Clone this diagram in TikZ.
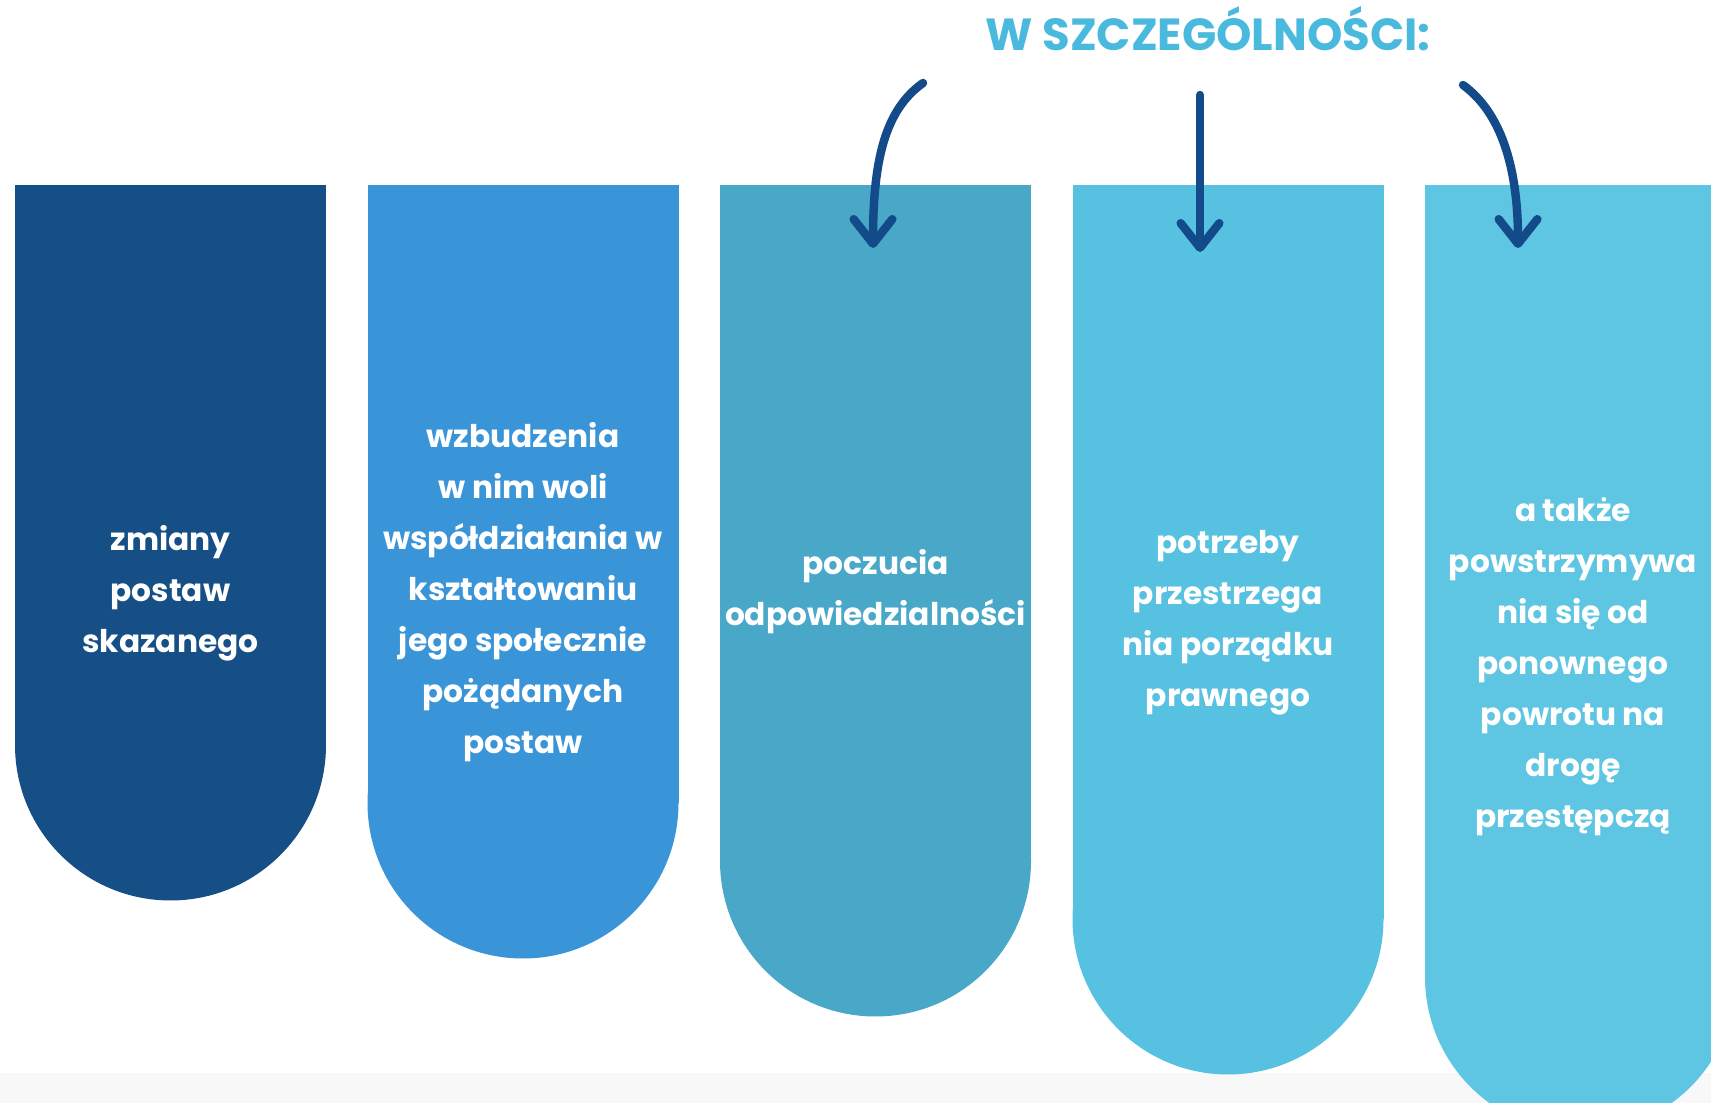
\documentclass[tikz,border=0pt]{standalone}
\usepackage{fontspec}
\setmainfont{Poppins}
\usetikzlibrary{arrows.meta}

\definecolor{navy}{HTML}{164F86}
\definecolor{midblue}{HTML}{3A94D8}
\definecolor{teal}{HTML}{49A7C8}
\definecolor{sky}{HTML}{56C1E0}
\definecolor{skylight}{HTML}{5EC6E2}
\definecolor{arrowblue}{HTML}{134B8A}
\definecolor{titleblue}{HTML}{4AB9DE}
\definecolor{strip}{HTML}{F8F8F8}

\tikzset{
  txt/.style={text=white,align=center,inner sep=0pt,
    font=\fontsize{8.9}{14.5}\selectfont\bfseries},
  arr/.style={arrowblue,line width=2.4pt,line cap=round,
    -{Straight Barb[length=7pt,width=11pt,round]}}
}

\begin{document}
\begin{tikzpicture}[x=0.1mm,y=-0.1mm]
  \useasboundingbox (0,0) rectangle (1711,1103);
  \clip (0,0) rectangle (1711,1103);
  \fill[strip] (0,1073) rectangle (1711,1103);

  % columns
  \fill[navy] (15,185) rectangle (326,745);
  \fill[navy] (170.5,745) circle[radius=155.5];
  \fill[midblue] (367.5,185) rectangle (678.5,803);
  \fill[midblue] (523,803) circle[radius=155.5];
  \fill[teal] (720,185) rectangle (1031,861);
  \fill[teal] (875.5,861) circle[radius=155.5];
  \fill[sky] (1072.5,185) rectangle (1383.5,919);
  \fill[sky] (1228,919) circle[radius=155.5];
  \fill[skylight] (1425,185) rectangle (1736,977);
  \fill[skylight] (1580.5,977) circle[radius=155.5];

  % texts
  \node[txt] (zmiany) at (170.5,593) {zmiany\\postaw\\skazanego};
  \node[txt] (wzbudzenia) at (523,592) {wzbudzenia\\w nim woli\\współdziałania w\\kształtowaniu\\jego społecznie\\pożądanych\\postaw};
  \node[txt] (poczucia) at (875.5,592) {poczucia\\odpowiedzialności};
  \node[txt] (potrzeby) at (1228,623) {potrzeby\\przestrzega\\nia porządku\\prawnego};
  \node[txt] (powstrzym) at (1573,667) {a także\\powstrzymywa\\nia się od\\ponownego\\powrotu na\\drogę\\przestępczą};

  % W SZCZEGOLNOSCI
  \node[anchor=base,inner sep=0pt,text=titleblue,
    font=\fontsize{12.8}{15}\selectfont\bfseries] (title) at (1208,51) {W SZCZEGÓLNOŚCI:};

  \coordinate (s1) at (923,83);
  \coordinate (t1) at (873,248);
  \coordinate (s2) at (1200,95);
  \coordinate (t2) at (1200,252);
  \coordinate (s3) at (1463,85);
  \coordinate (t3) at (1518,248);

  \draw[arr] (s1) .. controls (885,110) and (873,160) .. (t1);
  \draw[arr] (s2) -- (t2);
  \draw[arr] (s3) .. controls (1500,112) and (1518,165) .. (t3);
\end{tikzpicture}
\end{document}
